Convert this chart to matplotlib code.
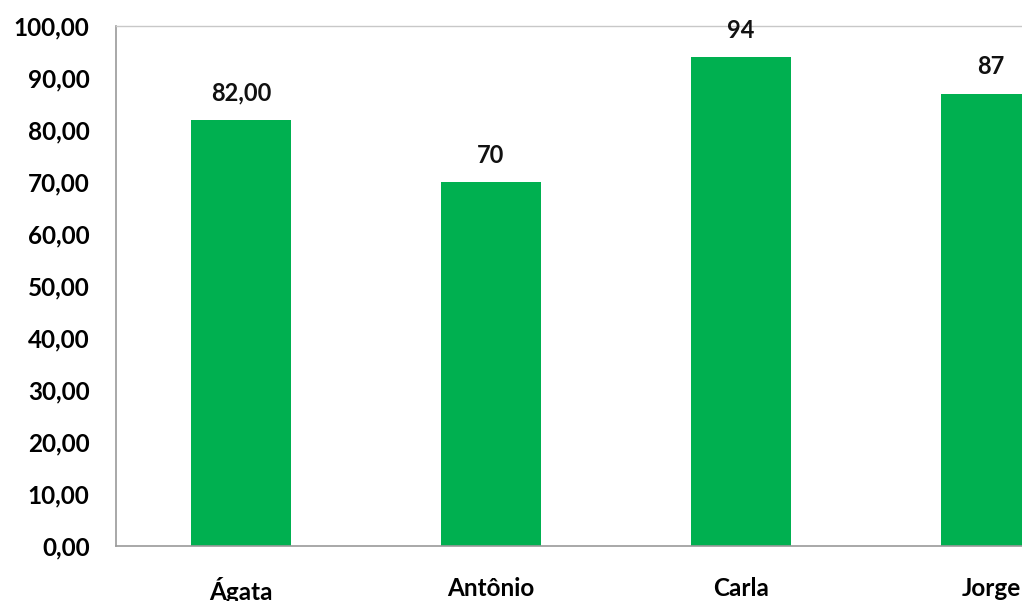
import matplotlib
matplotlib.use("Agg")
import matplotlib.pyplot as plt

categories = ["Ágata", "Antônio", "Carla", "Jorge"]
values = [82, 70, 94, 87]
value_labels = ["82,00", "70", "94", "87"]
yticks = [0, 10, 20, 30, 40, 50, 60, 70, 80, 90, 100]
ytick_labels = ["0,00", "10,00", "20,00", "30,00", "40,00", "50,00",
                "60,00", "70,00", "80,00", "90,00", "100,00"]

plt.rcParams['font.family'] = ['Lato', 'DejaVu Sans']

fig = plt.figure(figsize=(10.22, 6.01), dpi=100)
ax = fig.add_axes([116/1022, 55/601, 1000/1022, 520/601])

x = list(range(len(categories)))
ax.bar(x, values, width=0.4, color="#00B050", zorder=2)
ax.set_xlim(-0.5, 3.5)
ax.set_ylim(0, 100)
ax.set_yticks(yticks)
ax.set_yticklabels(ytick_labels, fontsize=17.5, fontweight='bold')
ax.set_xticks(x)
ax.set_xticklabels(categories, fontsize=17.5, fontweight='bold')
ax.tick_params(axis='both', length=0)
ax.tick_params(axis='y', pad=19)
ax.tick_params(axis='x', pad=22)

for s in ['left', 'bottom']:
    ax.spines[s].set_color('#9A9A9A')
    ax.spines[s].set_linewidth(1.2)
ax.spines['top'].set_color('#C8C8C8')
ax.spines['top'].set_linewidth(1.0)
ax.spines['right'].set_visible(False)

for xi, v, lab in zip(x, values, value_labels):
    ax.annotate(lab, (xi, v), xytext=(0, 11), textcoords='offset points',
                ha='center', va='bottom', fontsize=17, fontweight='bold',
                color='#111111', annotation_clip=False, zorder=5)

fig.savefig("out.png", dpi=100)
